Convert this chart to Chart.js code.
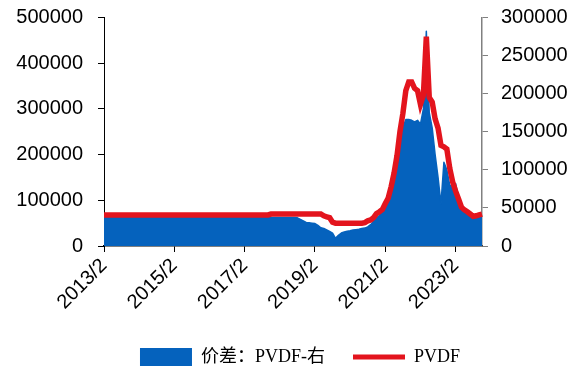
<!DOCTYPE html>
<html>
<head>
<meta charset="utf-8">
<script src="https://cdn.jsdelivr.net/npm/chart.js@4/dist/chart.umd.min.js"></script>
<style>
html,body{margin:0;padding:0;background:#fff;}
#c{display:block;}
</style>
</head>
<body>
<canvas id="c" width="584" height="370"></canvas>
<script>
// Monthly series, 2013/2 .. 2023/11
const startYear = 2013;
const startMonth = 2;

// PVDF price (left axis)
const pvdfPrice = [
  68000,68000,68000,68000,68000,68000,68000,68000,68000,68000,68000,68000,
  68000,68000,68000,68000,68000,68000,68000,68000,68000,68000,68000,68000,
  68000,68000,68000,68000,68000,68000,68000,68000,68000,68000,68000,68000,
  68000,68000,68000,68000,68000,68000,68000,68000,68000,68000,68000,68000,
  68000,68000,68000,68000,68000,68000,68000,68000,68000,70000,70000,70000,
  70000,70000,70000,70000,70000,70000,70000,70000,70000,70000,70000,70000,
  70000,70000,70000,66000,64000,62000,52000,50000,50000,50000,50000,50000,
  50000,50000,50000,50000,50000,51000,55000,57000,62000,71000,75000,80000,
  93000,105000,130000,160000,198000,250000,290000,340000,359000,359000,345000,340000,
  310000,330000,458000,325000,315000,278000,258000,220000,217000,212000,170000,140000,
  120000,103000,85000,79000,75000,70000,65000,66000,68000,70000
];

// Spread: PVDF (right axis)
const pvdfSpread = [
  37500,37500,37500,37500,37500,37500,37500,37500,37500,37500,37500,37500,
  37500,37500,37500,37500,37500,37500,37500,37500,37500,37500,37500,37500,
  37500,37500,37500,37500,37500,37500,37500,37500,37500,37500,37500,37500,
  37500,37500,37500,37500,37500,37500,37500,37500,37500,37500,37500,37500,
  37500,37500,37500,37500,37500,37500,37500,37500,37500,37500,37500,37500,
  37500,37500,37500,37500,37500,37500,37000,35000,33000,31000,30500,30000,
  29500,27000,24000,23000,21000,19000,17000,10000,14000,17000,18500,19500,
  20000,21000,21500,22000,23000,23500,25000,28000,32000,37000,40000,50000,
  55000,65000,78000,92000,108000,128000,156000,166000,166000,165000,163000,165000,
  160000,180000,282000,175000,155000,120000,90000,55000,110000,100000,80000,78000,
  82000,62000,52000,47000,44000,41000,39000,38000,38000,38500
];

const tickLabels = ['2013/2','2015/2','2017/2','2019/2','2021/2','2023/2'];
const seriesNames = ['价差：PVDF-右','PVDF'];

const months = [];
for (let i = 0; i < pvdfPrice.length; i++) {
  const t = startYear * 12 + (startMonth - 1) + i;
  months.push(Math.floor(t / 12) + '/' + (t % 12 + 1));
}

const BLUE = '#0562bd';
const RED = '#e3141d';
const axisFont = {family: "'Liberation Sans', Arial, sans-serif", size: 20};

new Chart(document.getElementById('c'), {
  type: 'line',
  data: {
    labels: months,
    datasets: [
      {
        label: seriesNames[0],
        data: pvdfSpread,
        yAxisID: 'y1',
        borderColor: BLUE,
        backgroundColor: BLUE,
        borderWidth: 1.5,
        borderJoinStyle: 'round',
        fill: 'origin',
        pointRadius: 0,
        tension: 0,
        order: 2
      },
      {
        label: seriesNames[1],
        data: pvdfPrice,
        yAxisID: 'y',
        borderColor: RED,
        backgroundColor: RED,
        borderWidth: 5.5,
        fill: false,
        pointRadius: 0,
        tension: 0,
        order: 1
      }
    ]
  },
  options: {
    responsive: false,
    animation: false,
    layout: {padding: {left: 16, right: 0, top: 17.5, bottom: -6}},
    plugins: {
      tooltip: {enabled: false},
      legend: {
        position: 'bottom',
        labels: {
          usePointStyle: true,
          pointStyleWidth: 52,
          boxHeight: 18,
          padding: 28,
          color: '#000',
          font: {family: "'Liberation Serif', 'Noto Sans CJK SC', serif", size: 18},
          generateLabels: (chart) => chart.data.datasets.map((ds, i) => ({
            text: ds.label,
            fillStyle: i === 0 ? BLUE : RED,
            strokeStyle: i === 0 ? BLUE : RED,
            lineWidth: i === 0 ? 0 : 5,
            pointStyle: i === 0 ? 'rect' : 'line',
            hidden: false,
            datasetIndex: i,
            fontColor: '#000'
          }))
        }
      }
    },
    scales: {
      x: {
        type: 'category',
        offset: false,
        grid: {display: true, drawOnChartArea: false, drawTicks: true, tickLength: 6, color: '#000', offset: false},
        border: {display: true, color: '#000', width: 1.5},
        ticks: {autoSkip: false, minRotation: 45, maxRotation: 45, padding: 2, color: '#000', font: axisFont},
        afterBuildTicks: (axis) => {
          axis.ticks = axis.ticks.filter(t => tickLabels.includes(months[t.value]));
        },
        afterFit: (scale) => { scale.height = 74; }
      },
      y: {
        position: 'left',
        min: 0, max: 500000,
        grid: {display: true, drawOnChartArea: false, drawTicks: true, tickLength: 6, color: '#000'},
        border: {display: true, color: '#000', width: 1},
        ticks: {stepSize: 100000, padding: 15, color: '#000', font: axisFont, callback: (v) => String(v)},
        afterFit: (scale) => { scale.width = 88; scale.paddingTop = 0; scale.paddingBottom = 0; }
      },
      y1: {
        position: 'right',
        min: 0, max: 300000,
        grid: {display: true, drawOnChartArea: false, drawTicks: true, tickLength: 6, color: '#808080'},
        border: {display: true, color: '#808080', width: 1.5},
        ticks: {stepSize: 50000, padding: 13, color: '#000', font: axisFont, callback: (v) => String(v)},
        afterFit: (scale) => { scale.width = 102; scale.paddingTop = 0; scale.paddingBottom = 0; }
      }
    }
  }
});
</script>
</body>
</html>
